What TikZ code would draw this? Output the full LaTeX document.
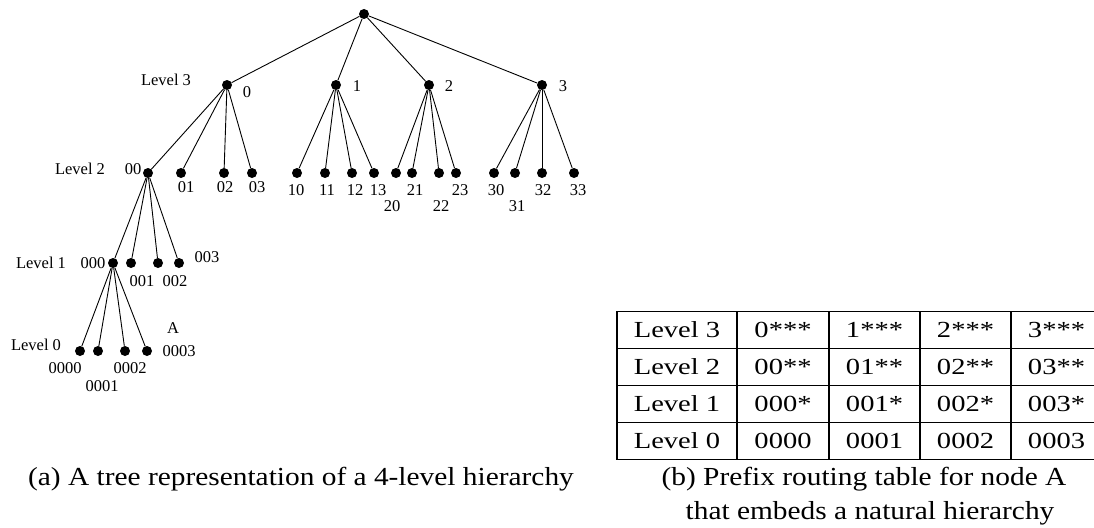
\documentclass[tikz,border=0pt]{standalone}
\usepackage{fontspec}
\setmainfont{Liberation Serif}
\newfontfamily\tabfont[FakeStretch=1.24]{Liberation Serif}
\newfontfamily\capfont[FakeStretch=1.13]{Liberation Serif}
\usetikzlibrary{positioning}

\begin{document}
\begin{tikzpicture}[x=1pt, y=-1pt,
dot/.style={circle, fill=black, inner sep=0pt, minimum size=10pt},
lbl/.style={inner sep=0pt, font=\fontsize{16.5}{18}\selectfont},
edge/.style={line width=0.9pt},
cell/.style={rectangle, draw=black, line width=1.8pt, inner sep=0pt, outer sep=0pt, minimum height=37pt, font=\tabfont\fontsize{23}{23}\selectfont},
capnode/.style={inner sep=0pt, anchor=base, font=\capfont\fontsize{26}{30}\selectfont},
]
\useasboundingbox (0,0) rectangle (1094,527);

%Nodes
\node[dot]      (root)      at (364,14)      {};
\node[dot]      (n0)        at (227,85)      {};
\node[dot]      (n1)        at (336,85)      {};
\node[dot]      (n2)        at (429,85)      {};
\node[dot]      (n3)        at (542,85)      {};

\node[dot]      (n00)       at (148,173)     {};
\node[dot]      (n01)       at (181,173)     {};
\node[dot]      (n02)       at (224,173)     {};
\node[dot]      (n03)       at (252,173)     {};
\node[dot]      (n10)       at (297,173)     {};
\node[dot]      (n11)       at (325,173)     {};
\node[dot]      (n12)       at (352,173)     {};
\node[dot]      (n13)       at (374,173)     {};
\node[dot]      (n20)       at (396,173)     {};
\node[dot]      (n21)       at (412,173)     {};
\node[dot]      (n22)       at (439,173)     {};
\node[dot]      (n23)       at (456,173)     {};
\node[dot]      (n30)       at (494,173)     {};
\node[dot]      (n31)       at (515,173)     {};
\node[dot]      (n32)       at (542,173)     {};
\node[dot]      (n33)       at (574,173)     {};

\node[dot]      (n000)      at (113,263)     {};
\node[dot]      (n001)      at (131,263)     {};
\node[dot]      (n002)      at (158,263)     {};
\node[dot]      (n003)      at (179,263)     {};

\node[dot]      (n0000)     at (80,351)      {};
\node[dot]      (n0001)     at (98,351)      {};
\node[dot]      (n0002)     at (125,351)     {};
\node[dot]      (n0003)     at (147,351)     {};

%Labels
\node[lbl]      (lev3t)     at (166,80)      {Level 3};
\node[lbl]      (l0)        at (247,92)      {0};
\node[lbl]      (l1)        at (357,86)      {1};
\node[lbl]      (l2)        at (449,86)      {2};
\node[lbl]      (l3)        at (563,86)      {3};

\node[lbl]      (lev2t)     at (80,169)      {Level 2};
\node[lbl]      (l00)       at (133,169)     {00};
\node[lbl]      (l01)       at (186,187)     {01};
\node[lbl]      (l02)       at (225,187)     {02};
\node[lbl]      (l03)       at (257,187)     {03};
\node[lbl]      (l10)       at (296,190)     {10};
\node[lbl]      (l11)       at (327,190)     {11};
\node[lbl]      (l12)       at (355,190)     {12};
\node[lbl]      (l13)       at (378,190)     {13};
\node[lbl]      (l20)       at (392,206)     {20};
\node[lbl]      (l21)       at (415,190)     {21};
\node[lbl]      (l22)       at (441,206)     {22};
\node[lbl]      (l23)       at (460,190)     {23};
\node[lbl]      (l30)       at (496,190)     {30};
\node[lbl]      (l31)       at (517,206)     {31};
\node[lbl]      (l32)       at (543,190)     {32};
\node[lbl]      (l33)       at (578,190)     {33};

\node[lbl]      (lev1t)     at (41,263)      {Level 1};
\node[lbl]      (l000)      at (93,263)      {000};
\node[lbl]      (l001)      at (142,281)     {001};
\node[lbl]      (l002)      at (175,281)     {002};
\node[lbl]      (l003)      at (207,257)     {003};

\node[lbl]      (lev0t)     at (36,345)      {Level 0};
\node[lbl]      (l0000)     at (65,368)      {0000};
\node[lbl]      (l0001)     at (102,386)     {0001};
\node[lbl]      (l0002)     at (130,368)     {0002};
\node[lbl]      (l0003)     at (179,351)     {0003};
\node[lbl]      (nodeA)     at (173,328)     {A};

%Lines
\draw[edge] (root) -- (n0);
\draw[edge] (root) -- (n1);
\draw[edge] (root) -- (n2);
\draw[edge] (root) -- (n3);
\draw[edge] (n0) -- (n00);
\draw[edge] (n0) -- (n01);
\draw[edge] (n0) -- (n02);
\draw[edge] (n0) -- (n03);
\draw[edge] (n1) -- (n10);
\draw[edge] (n1) -- (n11);
\draw[edge] (n1) -- (n12);
\draw[edge] (n1) -- (n13);
\draw[edge] (n2) -- (n20);
\draw[edge] (n2) -- (n21);
\draw[edge] (n2) -- (n22);
\draw[edge] (n2) -- (n23);
\draw[edge] (n3) -- (n30);
\draw[edge] (n3) -- (n31);
\draw[edge] (n3) -- (n32);
\draw[edge] (n3) -- (n33);
\draw[edge] (n00) -- (n000);
\draw[edge] (n00) -- (n001);
\draw[edge] (n00) -- (n002);
\draw[edge] (n00) -- (n003);
\draw[edge] (n000) -- (n0000);
\draw[edge] (n000) -- (n0001);
\draw[edge] (n000) -- (n0002);
\draw[edge] (n000) -- (n0003);

%Table
\node[cell, minimum width=120pt]  (t3)   at (677,330)           {Level 3};
\node[cell, minimum width=92pt]   (t3a)  [right=0pt of t3]      {0***};
\node[cell, minimum width=91pt]   (t3b)  [right=0pt of t3a]     {1***};
\node[cell, minimum width=91pt]   (t3c)  [right=0pt of t3b]     {2***};
\node[cell, minimum width=91pt]   (t3d)  [right=0pt of t3c]     {3***};

\node[cell, minimum width=120pt]  (t2)   [below=0pt of t3]      {Level 2};
\node[cell, minimum width=92pt]   (t2a)  [below=0pt of t3a]     {00**};
\node[cell, minimum width=91pt]   (t2b)  [below=0pt of t3b]     {01**};
\node[cell, minimum width=91pt]   (t2c)  [below=0pt of t3c]     {02**};
\node[cell, minimum width=91pt]   (t2d)  [below=0pt of t3d]     {03**};

\node[cell, minimum width=120pt]  (t1)   [below=0pt of t2]      {Level 1};
\node[cell, minimum width=92pt]   (t1a)  [below=0pt of t2a]     {000*};
\node[cell, minimum width=91pt]   (t1b)  [below=0pt of t2b]     {001*};
\node[cell, minimum width=91pt]   (t1c)  [below=0pt of t2c]     {002*};
\node[cell, minimum width=91pt]   (t1d)  [below=0pt of t2d]     {003*};

\node[cell, minimum width=120pt]  (t0)   [below=0pt of t1]      {Level 0};
\node[cell, minimum width=92pt]   (t0a)  [below=0pt of t1a]     {0000};
\node[cell, minimum width=91pt]   (t0b)  [below=0pt of t1b]     {0001};
\node[cell, minimum width=91pt]   (t0c)  [below=0pt of t1c]     {0002};
\node[cell, minimum width=91pt]   (t0d)  [below=0pt of t1d]     {0003};

%Captions
\node[capnode]  (capa)      at (301,485)     {(a) A tree representation of a 4-level hierarchy};
\node[capnode]  (capb)      at (864,485)     {(b) Prefix routing table for node A};
\node[capnode]  (capb2)     at (870,519)     {that embeds a natural hierarchy};
\end{tikzpicture}
\end{document}
